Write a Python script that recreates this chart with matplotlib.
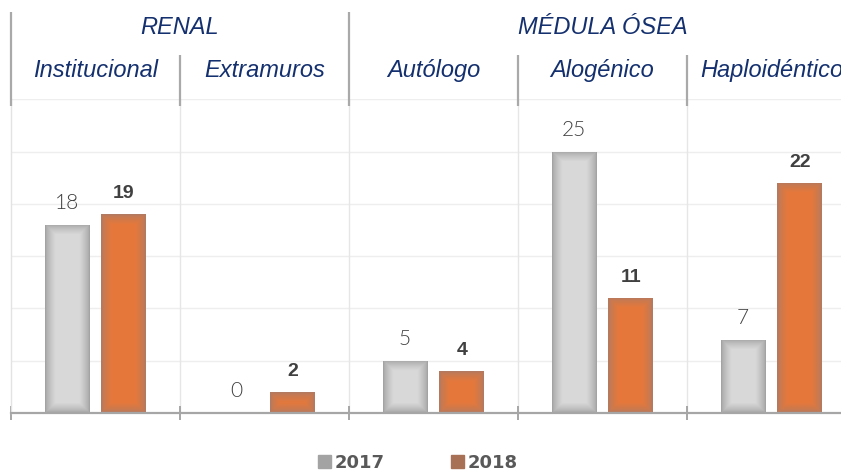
import matplotlib
matplotlib.use('Agg')
import matplotlib.pyplot as plt
from matplotlib.patches import Rectangle
from matplotlib.transforms import blended_transform_factory
import numpy as np

groups = ['RENAL', 'MÉDULA ÓSEA']
group_span = [(0, 2), (2, 5)]
categories = ['Institucional', 'Extramuros', 'Autólogo', 'Alogénico', 'Haploidéntico']
years = ['2017', '2018']
vals_2017 = [18, 0, 5, 25, 7]
vals_2018 = [19, 2, 4, 11, 22]

navy = '#14306e'
gray_edge = np.array([0.64, 0.64, 0.64])
gray_mid = np.array([0.85, 0.85, 0.85])
orng_edge = np.array([0.70, 0.48, 0.38])
orng_mid = np.array([0.90, 0.47, 0.23])

fig = plt.figure(figsize=(8.41, 4.71), dpi=100)
W, H = 841, 471
# axes run a bit past the right edge, like the original crop
ax = fig.add_axes([11 / W, (H - 413) / H, 845 / W, 313.8 / H])
ax.set_xlim(0, 5)
ax.set_ylim(0, 30)

px_x = 845 / 5
px_y = 313.8 / 30


def shaded_bar(xc, v, w, edge, mid):
    b = ax.bar(xc, v, w, color=mid, zorder=3, linewidth=0)[0]
    if v <= 0:
        return b
    nx = int(w * px_x)
    ny = max(int(v * px_y), 2)
    i = np.arange(nx)
    j = np.arange(ny)
    dx = np.minimum(i, nx - 1 - i)[None, :]
    dy = np.minimum(j, ny - 1 - j)[:, None]
    d = np.minimum(dx, dy)
    s = np.clip(d / 10.0, 0, 1) ** 0.7
    img = edge[None, None, :] + (mid - edge)[None, None, :] * s[:, :, None]
    im = ax.imshow(img, extent=(xc - w / 2, xc + w / 2, 0, v), aspect='auto',
                   interpolation='bilinear', zorder=4, origin='lower')
    im.set_clip_path(b)
    return b


x = np.arange(len(categories)) + 0.5
bw = 0.266
off = 0.168
for k in range(len(categories)):
    shaded_bar(x[k] - off, vals_2017[k], bw, gray_edge, gray_mid)
    shaded_bar(x[k] + off, vals_2018[k], bw, orng_edge, orng_mid)
    ax.annotate(str(vals_2017[k]), (x[k] - off, vals_2017[k]), xytext=(0, 11.5),
                textcoords='offset points', ha='center', va='baseline',
                fontsize=15, color='#404040', family=['Lato', 'DejaVu Sans'],
                fontweight=300, zorder=5)
    ax.annotate(str(vals_2018[k]), (x[k] + off, vals_2018[k]), xytext=(0, 11.5),
                textcoords='offset points', ha='center', va='baseline',
                fontsize=14, color='#404040', family='Liberation Sans',
                fontweight='bold', zorder=5)

ax.set_xlim(0, 5)
ax.set_ylim(0, 30)

# grid
for yv in range(5, 31, 5):
    ax.axhline(yv, color='#eeeeee', lw=1, zorder=1)
for xv in range(1, 5):
    ax.axvline(xv, color='#e6e6e6', lw=1, zorder=1)

for s in ['top', 'right']:
    ax.spines[s].set_visible(False)
ax.spines['left'].set_color('#e3e3e3')
ax.spines['left'].set_linewidth(1)
ax.spines['bottom'].set_color('#a6a6a6')
ax.spines['bottom'].set_linewidth(1.6)
ax.spines['bottom'].set_zorder(6)
ax.set_yticks([])
ax.set_xticks(range(0, 6))
ax.set_xticklabels([])
ax.tick_params(axis='x', direction='inout', length=10, width=1.4, color='#a6a6a6')

# header
tr = blended_transform_factory(ax.transData, ax.transAxes)
for k, c in enumerate(categories):
    ax.text(x[k], 1.093, c, transform=tr, ha='center', va='center', fontsize=17,
            style='italic', color=navy, family='Liberation Sans')
for g, (a, b) in zip(groups, group_span):
    ax.text((a + b) / 2, 1.230, g, transform=tr, ha='center', va='center', fontsize=17,
            style='italic', color=navy, family='Liberation Sans')
for xv in range(0, 5):
    top = 1.278 if xv in (0, 2) else 1.141
    ax.plot([xv, xv], [0.978, top], transform=tr, color='#a9a9a9', lw=1.6,
            clip_on=False, zorder=6, solid_capstyle='butt')

# legend
handles = [Rectangle((0, 0), 1, 1, color='#a3a3a3'), Rectangle((0, 0), 1, 1, color='#a87055')]
fig.legend(handles, years, loc='center', bbox_to_anchor=(418 / W, 1 - 463 / H), ncol=2,
           frameon=False, handlelength=0.7, handleheight=0.7, handletextpad=0.2,
           columnspacing=3.7, prop={'family': 'DejaVu Sans', 'weight': 'bold', 'size': 13},
           labelcolor='#595959')

fig.savefig('out.png', dpi=100)
